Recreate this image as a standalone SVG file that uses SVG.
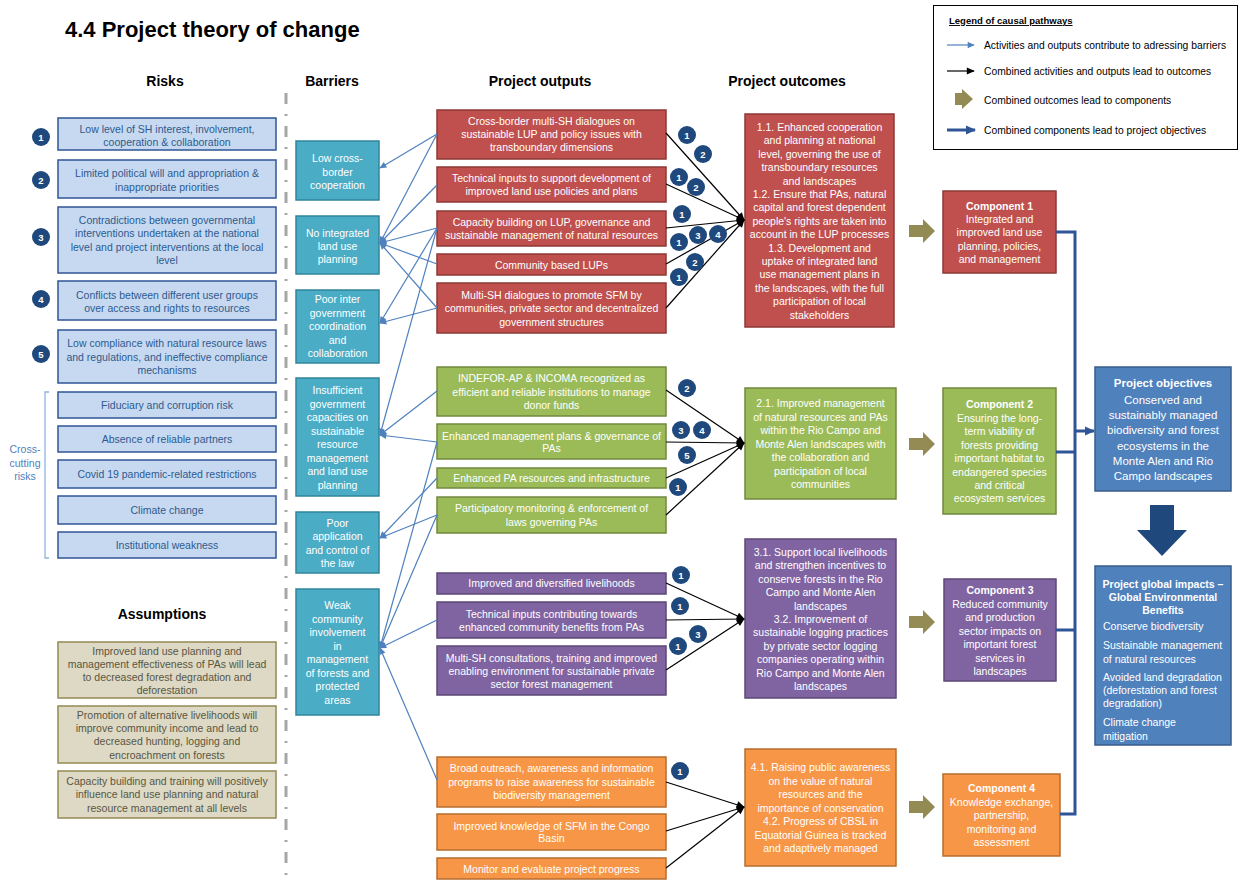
<svg xmlns="http://www.w3.org/2000/svg" width="1244" height="880" viewBox="0 0 1244 880">
<defs>
<style>
text{font-family:"Liberation Sans",Arial,sans-serif;}
.h{font-size:14px;font-weight:bold;fill:#000;text-anchor:middle}
.t{font-size:10.5px;text-anchor:middle}
.w{fill:#fff}
.rk rect{fill:#C6D9F1;stroke:#2F5597;stroke-width:1.5}
.rk text{fill:#2E5A8E}
.as rect{fill:#DDD9C4;stroke:#948A54;stroke-width:1.5}
.as text{fill:#595643}
.br rect{fill:#4BACC6;stroke:#31859C;stroke-width:1.5}
.red rect{fill:#C0504D;stroke:#8C3836;stroke-width:1.5}
.grn rect{fill:#9BBB59;stroke:#71893F;stroke-width:1.5}
.pur rect{fill:#8064A2;stroke:#5C4776;stroke-width:1.5}
.org rect{fill:#F79646;stroke:#B66D31;stroke-width:1.5}
.obj rect{fill:#4F81BD;stroke:#385D8A;stroke-width:1.5}
.num circle{fill:#1F497D}
.num text{fill:#fff;font-size:9.5px;font-weight:bold;text-anchor:middle}
.bl{stroke:#4F81BD;stroke-width:1.2;fill:none;marker-end:url(#ab)}
.bk{stroke:#000;stroke-width:1.2;fill:none;marker-end:url(#ak)}
.ol{fill:#948A54}
.b{font-weight:bold}
</style>
<marker id="ab" viewBox="0 0 10 10" refX="9" refY="5" markerWidth="8" markerHeight="7" orient="auto" markerUnits="userSpaceOnUse"><path d="M0,0.5 L10,5 L0,9.5z" fill="#4F81BD"/></marker>
<marker id="ak" viewBox="0 0 10 10" refX="9" refY="5" markerWidth="9" markerHeight="8" orient="auto" markerUnits="userSpaceOnUse"><path d="M0,0.5 L10,5 L0,9.5z" fill="#000"/></marker>
<marker id="ad" viewBox="0 0 10 10" refX="9" refY="5" markerWidth="10" markerHeight="10" orient="auto" markerUnits="userSpaceOnUse"><path d="M0,0.5 L10,5 L0,9.5z" fill="#2F5597"/></marker>
</defs>
<rect width="1244" height="880" fill="#fff"/>

<text x="65" y="37" style="font-size:22px;font-weight:bold">4.4 Project theory of change</text>
<text class="h" x="165" y="86">Risks</text>
<text class="h" x="332" y="86">Barriers</text>
<text class="h" x="540" y="86">Project outputs</text>
<text class="h" x="787" y="86">Project outcomes</text>
<text class="h" x="162" y="619">Assumptions</text>

<line x1="286" y1="93" x2="286" y2="880" stroke="#A6A6A6" stroke-width="3" stroke-dasharray="11 10 2 10"/>

<!-- Legend -->
<g id="legend">
<rect x="933.5" y="5.5" width="304" height="144" fill="#fff" stroke="#000" stroke-width="1"/>
<text x="949" y="24" style="font-size:9.5px;font-weight:bold;text-decoration:underline">Legend of causal pathways</text>
<line x1="947" y1="45" x2="974" y2="45" class="bl"/>
<text x="984" y="49" style="font-size:10.3px">Activities and outputs contribute to adressing barriers</text>
<line x1="947" y1="71" x2="974" y2="71" class="bk"/>
<text x="984" y="75" style="font-size:10.3px">Combined activities and outputs lead to outcomes</text>
<path class="ol" d="M955,93 H962 V89 L973,99 L962,109 V105 H955 Z"/>
<text x="984" y="104" style="font-size:10.3px">Combined outcomes lead to components</text>
<line x1="947" y1="130" x2="975" y2="130" stroke="#2F5597" stroke-width="3" marker-end="url(#ad)"/>
<text x="984" y="134" style="font-size:10.3px">Combined components lead to project objectives</text>
</g>

<!-- Risks -->
<g id="risk1" class="rk"><rect x="58" y="118" width="218" height="32"/><text class="t" x="167"><tspan x="167" y="133">Low level of SH interest, involvement,</tspan><tspan x="167" y="146">cooperation &amp; collaboration</tspan></text></g>
<g id="risk2" class="rk"><rect x="58" y="160" width="218" height="38"/><text class="t"><tspan x="167" y="177">Limited political will and appropriation &amp;</tspan><tspan x="167" y="191">inappropriate priorities</tspan></text></g>
<g id="risk3" class="rk"><rect x="58" y="207" width="218" height="66"/><text class="t"><tspan x="167" y="224">Contradictions between governmental</tspan><tspan x="167" y="237">interventions undertaken at the national</tspan><tspan x="167" y="251">level and project interventions at the local</tspan><tspan x="167" y="264">level</tspan></text></g>
<g id="risk4" class="rk"><rect x="58" y="281" width="218" height="39"/><text class="t"><tspan x="167" y="299">Conflicts between different user groups</tspan><tspan x="167" y="312">over access and rights to resources</tspan></text></g>
<g id="risk5" class="rk"><rect x="58" y="330" width="218" height="53"/><text class="t"><tspan x="167" y="347">Low compliance with natural resource laws</tspan><tspan x="167" y="361">and regulations, and ineffective compliance</tspan><tspan x="167" y="374">mechanisms</tspan></text></g>
<g id="risknums" class="num">
<circle cx="41" cy="137" r="9"/><text x="41" y="140.5">1</text>
<circle cx="41" cy="180" r="9"/><text x="41" y="183.5">2</text>
<circle cx="41" cy="237" r="9"/><text x="41" y="240.5">3</text>
<circle cx="41" cy="299" r="9"/><text x="41" y="302.5">4</text>
<circle cx="41" cy="354" r="9"/><text x="41" y="357.5">5</text>
</g>
<g id="cc1" class="rk"><rect x="58" y="392" width="218" height="26"/><text class="t" x="167" y="409">Fiduciary and corruption risk</text></g>
<g id="cc2" class="rk"><rect x="58" y="426" width="218" height="26"/><text class="t" x="167" y="443">Absence of reliable partners</text></g>
<g id="cc3" class="rk"><rect x="58" y="460" width="218" height="28"/><text class="t" x="167" y="478">Covid 19 pandemic-related restrictions</text></g>
<g id="cc4" class="rk"><rect x="58" y="496" width="218" height="28"/><text class="t" x="167" y="514">Climate change</text></g>
<g id="cc5" class="rk"><rect x="58" y="532" width="218" height="26"/><text class="t" x="167" y="549">Institutional weakness</text></g>
<g id="crosscut">
<path d="M49,392 H45 V558 H49" fill="none" stroke="#8DB4E2" stroke-width="1.3"/>
<text class="t" style="fill:#4F81BD"><tspan x="25" y="453">Cross-</tspan><tspan x="25" y="467">cutting</tspan><tspan x="25" y="480">risks</tspan></text>
</g>

<!-- Assumptions -->
<g id="as1" class="as"><rect x="58" y="642" width="218" height="56"/><text class="t"><tspan x="167" y="655">Improved land use planning and</tspan><tspan x="167" y="668">management effectiveness of PAs will lead</tspan><tspan x="167" y="681">to decreased forest degradation and</tspan><tspan x="167" y="694">deforestation</tspan></text></g>
<g id="as2" class="as"><rect x="58" y="706" width="218" height="57"/><text class="t"><tspan x="167" y="719">Promotion of alternative livelihoods will</tspan><tspan x="167" y="732">improve community income and lead to</tspan><tspan x="167" y="745">decreased hunting, logging and</tspan><tspan x="167" y="759">encroachment on forests</tspan></text></g>
<g id="as3" class="as"><rect x="58" y="771" width="218" height="47"/><text class="t"><tspan x="167" y="785">Capacity building and training will positively</tspan><tspan x="167" y="798">influence land use planning and natural</tspan><tspan x="167" y="812">resource management at all levels</tspan></text></g>

<!-- Barriers -->
<g id="bar1" class="br"><rect x="296" y="141" width="83" height="59"/><text class="t w"><tspan x="337.5" y="162">Low cross-</tspan><tspan x="337.5" y="176">border</tspan><tspan x="337.5" y="189">cooperation</tspan></text></g>
<g id="bar2" class="br"><rect x="296" y="216" width="83" height="58"/><text class="t w"><tspan x="337.5" y="237">No integrated</tspan><tspan x="337.5" y="250">land use</tspan><tspan x="337.5" y="263">planning</tspan></text></g>
<g id="bar3" class="br"><rect x="296" y="290" width="83" height="73"/><text class="t w"><tspan x="337.5" y="303">Poor inter</tspan><tspan x="337.5" y="317">government</tspan><tspan x="337.5" y="330">coordination</tspan><tspan x="337.5" y="344">and</tspan><tspan x="337.5" y="357">collaboration</tspan></text></g>
<g id="bar4" class="br"><rect x="296" y="378" width="83" height="118"/><text class="t w"><tspan x="337.5" y="394">Insufficient</tspan><tspan x="337.5" y="407.5">government</tspan><tspan x="337.5" y="421">capacities on</tspan><tspan x="337.5" y="434.5">sustainable</tspan><tspan x="337.5" y="448">resource</tspan><tspan x="337.5" y="461.5">management</tspan><tspan x="337.5" y="475">and land use</tspan><tspan x="337.5" y="488.5">planning</tspan></text></g>
<g id="bar5" class="br"><rect x="296" y="512" width="83" height="61"/><text class="t w"><tspan x="337.5" y="527">Poor</tspan><tspan x="337.5" y="540">application</tspan><tspan x="337.5" y="554">and control of</tspan><tspan x="337.5" y="567">the law</tspan></text></g>
<g id="bar6" class="br"><rect x="296" y="589" width="83" height="126"/><text class="t w"><tspan x="337.5" y="609">Weak</tspan><tspan x="337.5" y="622.5">community</tspan><tspan x="337.5" y="636">involvement</tspan><tspan x="337.5" y="649.5">in</tspan><tspan x="337.5" y="663">management</tspan><tspan x="337.5" y="676.5">of forests and</tspan><tspan x="337.5" y="690">protected</tspan><tspan x="337.5" y="703.5">areas</tspan></text></g>

<!-- Outputs -->
<g id="out_r1" class="red"><rect x="437" y="110" width="229" height="49"/><text class="t w"><tspan x="551.5" y="125">Cross-border multi-SH dialogues on</tspan><tspan x="551.5" y="138">sustainable LUP and policy issues with</tspan><tspan x="551.5" y="151">transboundary dimensions</tspan></text></g>
<g id="out_r2" class="red"><rect x="437" y="167" width="229" height="35"/><text class="t w"><tspan x="551.5" y="182">Technical inputs to support development of</tspan><tspan x="551.5" y="195">improved land use policies and plans</tspan></text></g>
<g id="out_r3" class="red"><rect x="437" y="211" width="229" height="35"/><text class="t w"><tspan x="551.5" y="226">Capacity building on LUP, governance and</tspan><tspan x="551.5" y="238.5">sustainable management of natural resources</tspan></text></g>
<g id="out_r4" class="red"><rect x="437" y="254" width="229" height="21"/><text class="t w" x="551.5" y="268.5">Community based LUPs</text></g>
<g id="out_r5" class="red"><rect x="437" y="283" width="229" height="50"/><text class="t w"><tspan x="551.5" y="299">Multi-SH dialogues to promote SFM by</tspan><tspan x="551.5" y="312">communities, private sector and decentralized</tspan><tspan x="551.5" y="326">government structures</tspan></text></g>

<g id="out_g1" class="grn"><rect x="437" y="367" width="229" height="49"/><text class="t w"><tspan x="551.5" y="382">INDEFOR-AP &amp; INCOMA recognized as</tspan><tspan x="551.5" y="396">efficient and reliable institutions to manage</tspan><tspan x="551.5" y="409">donor funds</tspan></text></g>
<g id="out_g2" class="grn"><rect x="437" y="424" width="229" height="35"/><text class="t w"><tspan x="551.5" y="440">Enhanced management plans &amp; governance of</tspan><tspan x="551.5" y="452">PAs</tspan></text></g>
<g id="out_g3" class="grn"><rect x="437" y="468" width="229" height="20"/><text class="t w" x="551.5" y="482">Enhanced PA resources and infrastructure</text></g>
<g id="out_g4" class="grn"><rect x="437" y="497" width="229" height="36"/><text class="t w"><tspan x="551.5" y="512">Participatory monitoring &amp; enforcement of</tspan><tspan x="551.5" y="526">laws governing PAs</tspan></text></g>

<g id="out_p1" class="pur"><rect x="437" y="573" width="229" height="21"/><text class="t w" x="551.5" y="587">Improved and diversified livelihoods</text></g>
<g id="out_p2" class="pur"><rect x="437" y="602" width="229" height="36"/><text class="t w"><tspan x="551.5" y="618">Technical inputs contributing towards</tspan><tspan x="551.5" y="631">enhanced community benefits from PAs</tspan></text></g>
<g id="out_p3" class="pur"><rect x="437" y="646" width="229" height="49"/><text class="t w"><tspan x="551.5" y="662">Multi-SH consultations, training and improved</tspan><tspan x="551.5" y="675">enabling environment for sustainable private</tspan><tspan x="551.5" y="688">sector forest management</tspan></text></g>

<g id="out_o1" class="org"><rect x="437" y="757" width="229" height="50"/><text class="t w"><tspan x="551.5" y="772">Broad outreach, awareness and information</tspan><tspan x="551.5" y="786">programs to raise awareness for sustainable</tspan><tspan x="551.5" y="799">biodiversity management</tspan></text></g>
<g id="out_o2" class="org"><rect x="437" y="814" width="229" height="36"/><text class="t w"><tspan x="551.5" y="830">Improved knowledge of SFM in the Congo</tspan><tspan x="551.5" y="842">Basin</tspan></text></g>
<g id="out_o3" class="org"><rect x="437" y="858" width="229" height="21"/><text class="t w" x="551.5" y="873">Monitor and evaluate project progress</text></g>

<!-- Outcomes -->
<g id="oc1" class="red"><rect x="745" y="114" width="149" height="213"/><text class="t w"><tspan x="819.5" y="131">1.1.  Enhanced cooperation</tspan><tspan x="819.5" y="144.4">and planning at national</tspan><tspan x="819.5" y="157.8">level, governing the use of</tspan><tspan x="819.5" y="171.2">transboundary resources</tspan><tspan x="819.5" y="184.6">and landscapes</tspan><tspan x="819.5" y="198">1.2. Ensure that PAs, natural</tspan><tspan x="819.5" y="211.4">capital and forest dependent</tspan><tspan x="819.5" y="224.8">people's rights are taken into</tspan><tspan x="819.5" y="238.2">account in the LUP processes</tspan><tspan x="819.5" y="251.6">1.3.  Development and</tspan><tspan x="819.5" y="265">uptake of integrated land</tspan><tspan x="819.5" y="278.4">use management plans in</tspan><tspan x="819.5" y="291.8">the landscapes, with the full</tspan><tspan x="819.5" y="305.2">participation of local</tspan><tspan x="819.5" y="318.6">stakeholders</tspan></text></g>
<g id="oc2" class="grn"><rect x="745" y="388" width="151" height="111"/><text class="t w"><tspan x="820.5" y="407">2.1. Improved management</tspan><tspan x="820.5" y="420.5">of natural resources and PAs</tspan><tspan x="820.5" y="434">within the Rio Campo and</tspan><tspan x="820.5" y="447.5">Monte Alen landscapes with</tspan><tspan x="820.5" y="461">the collaboration and</tspan><tspan x="820.5" y="474.5">participation of local</tspan><tspan x="820.5" y="488">communities</tspan></text></g>
<g id="oc3" class="pur"><rect x="745" y="539" width="151" height="159"/><text class="t w"><tspan x="820.5" y="556">3.1. Support local livelihoods</tspan><tspan x="820.5" y="569.4">and strengthen incentives to</tspan><tspan x="820.5" y="582.8">conserve forests in the Rio</tspan><tspan x="820.5" y="596.2">Campo and Monte Alen</tspan><tspan x="820.5" y="609.6">landscapes</tspan><tspan x="820.5" y="623">3.2. Improvement of</tspan><tspan x="820.5" y="636.4">sustainable logging practices</tspan><tspan x="820.5" y="649.8">by private sector logging</tspan><tspan x="820.5" y="663.2">companies operating within</tspan><tspan x="820.5" y="676.6">Rio Campo and Monte Alen</tspan><tspan x="820.5" y="690">landscapes</tspan></text></g>
<g id="oc4" class="org"><rect x="745" y="749" width="151" height="117"/><text class="t w"><tspan x="820.5" y="771">4.1. Raising public awareness</tspan><tspan x="820.5" y="784.5">on the value of natural</tspan><tspan x="820.5" y="798">resources and the</tspan><tspan x="820.5" y="811.5">importance of conservation</tspan><tspan x="820.5" y="825">4.2. Progress of CBSL in</tspan><tspan x="820.5" y="838.5">Equatorial Guinea is tracked</tspan><tspan x="820.5" y="852">and adaptively managed</tspan></text></g>

<!-- Olive arrows -->
<g id="olive_arrows">
<path class="ol" d="M909,225 H923 V219 L935,231 L923,243 V237 H909 Z"/>
<path class="ol" d="M909,438 H923 V432 L935,444 L923,456 V450 H909 Z"/>
<path class="ol" d="M909,616 H923 V610 L935,622 L923,634 V628 H909 Z"/>
<path class="ol" d="M909,801 H923 V795 L935,807 L923,819 V813 H909 Z"/>
</g>

<!-- Components -->
<g id="comp1" class="red"><rect x="943" y="191" width="113" height="82"/><text class="t w"><tspan x="999.5" y="210" class="b">Component 1</tspan><tspan x="999.5" y="223">Integrated and</tspan><tspan x="999.5" y="236">improved land use</tspan><tspan x="999.5" y="249.5">planning, policies,</tspan><tspan x="999.5" y="263">and management</tspan></text></g>
<g id="comp2" class="grn"><rect x="943" y="388" width="113" height="126"/><text class="t w"><tspan x="999.5" y="408" class="b">Component 2</tspan><tspan x="999.5" y="421.5">Ensuring the long-</tspan><tspan x="999.5" y="435">term viability of</tspan><tspan x="999.5" y="448.5">forests providing</tspan><tspan x="999.5" y="462">important habitat to</tspan><tspan x="999.5" y="475.5">endangered species</tspan><tspan x="999.5" y="489">and critical</tspan><tspan x="999.5" y="502">ecosystem services</tspan></text></g>
<g id="comp3" class="pur"><rect x="944" y="579" width="112" height="102"/><text class="t w"><tspan x="1000" y="594" class="b">Component 3</tspan><tspan x="1000" y="607.5">Reduced community</tspan><tspan x="1000" y="621">and production</tspan><tspan x="1000" y="634.5">sector impacts on</tspan><tspan x="1000" y="648">important forest</tspan><tspan x="1000" y="661.5">services in</tspan><tspan x="1000" y="675">landscapes</tspan></text></g>
<g id="comp4" class="org"><rect x="943" y="774" width="117" height="82"/><text class="t w"><tspan x="1001.5" y="792" class="b">Component 4</tspan><tspan x="1001.5" y="805.5">Knowledge exchange,</tspan><tspan x="1001.5" y="819">partnership,</tspan><tspan x="1001.5" y="832.5">monitoring and</tspan><tspan x="1001.5" y="846">assessment</tspan></text></g>

<!-- Objectives -->
<g id="objectives" class="obj"><rect x="1095" y="367" width="136" height="124"/><text class="w" style="font-size:11.5px;text-anchor:middle"><tspan x="1163" y="387" class="b">Project objectives</tspan><tspan x="1163" y="404">Conserved and</tspan><tspan x="1163" y="419">sustainably managed</tspan><tspan x="1163" y="434">biodiversity and forest</tspan><tspan x="1163" y="450">ecosystems in the</tspan><tspan x="1163" y="465">Monte Alen and Rio</tspan><tspan x="1163" y="480">Campo landscapes</tspan></text></g>
<path id="down_arrow" d="M1150,505 H1174 V530 H1187 L1162,556 L1137,530 H1150 Z" fill="#1F497D"/>
<g id="impacts" class="obj"><rect x="1095" y="566" width="136" height="179"/><text class="w b" style="font-size:10.5px;text-anchor:middle"><tspan x="1163" y="588">Project global impacts –</tspan><tspan x="1163" y="601">Global Environmental</tspan><tspan x="1163" y="614">Benefits</tspan></text><text class="w" style="font-size:10.5px"><tspan x="1103" y="630">Conserve biodiversity</tspan><tspan x="1103" y="649">Sustainable management</tspan><tspan x="1103" y="663">of natural resources</tspan><tspan x="1103" y="681">Avoided land degradation</tspan><tspan x="1103" y="694">(deforestation and forest</tspan><tspan x="1103" y="707">degradation)</tspan><tspan x="1103" y="726">Climate change</tspan><tspan x="1103" y="740">mitigation</tspan></text></g>

<!-- Connectors -->
<g id="connectors">
<g id="blue_links">
<line class="bl" x1="437" y1="134" x2="380" y2="168"/>
<line class="bl" x1="437" y1="134" x2="380" y2="243"/>
<line class="bl" x1="437" y1="185" x2="380" y2="243"/>
<line class="bl" x1="437" y1="228" x2="380" y2="243"/>
<line class="bl" x1="437" y1="264" x2="380" y2="243"/>
<line class="bl" x1="437" y1="308" x2="380" y2="243"/>
<line class="bl" x1="437" y1="228" x2="380" y2="323"/>
<line class="bl" x1="437" y1="308" x2="380" y2="323"/>
<line class="bl" x1="437" y1="228" x2="380" y2="435"/>
<line class="bl" x1="437" y1="391" x2="380" y2="435"/>
<line class="bl" x1="437" y1="442" x2="380" y2="435"/>
<line class="bl" x1="437" y1="478" x2="380" y2="538"/>
<line class="bl" x1="437" y1="515" x2="380" y2="538"/>
<line class="bl" x1="437" y1="442" x2="380" y2="648"/>
<line class="bl" x1="437" y1="515" x2="380" y2="648"/>
<line class="bl" x1="437" y1="620" x2="380" y2="648"/>
<line class="bl" x1="437" y1="780" x2="380" y2="648"/>
</g>
<g id="black_links">
<line class="bk" x1="666" y1="133" x2="744" y2="220"/>
<line class="bk" x1="666" y1="184" x2="744" y2="220"/>
<line class="bk" x1="666" y1="228" x2="744" y2="220"/>
<line class="bk" x1="666" y1="264" x2="744" y2="220"/>
<line class="bk" x1="666" y1="308" x2="744" y2="220"/>
<line class="bk" x1="666" y1="390" x2="744" y2="443"/>
<line class="bk" x1="666" y1="442" x2="744" y2="443"/>
<line class="bk" x1="666" y1="478" x2="744" y2="443"/>
<line class="bk" x1="666" y1="515" x2="744" y2="443"/>
<line class="bk" x1="666" y1="583" x2="744" y2="619"/>
<line class="bk" x1="666" y1="620" x2="744" y2="619"/>
<line class="bk" x1="666" y1="670" x2="744" y2="619"/>
<line class="bk" x1="666" y1="782" x2="744" y2="807"/>
<line class="bk" x1="666" y1="831" x2="744" y2="807"/>
<line class="bk" x1="666" y1="868" x2="744" y2="807"/>
</g>
<g id="component_links" fill="none" stroke="#2F5597" stroke-width="3">
<path d="M1056,232 H1075 V814 H1060"/>
<path d="M1056,452 H1075"/>
<path d="M1056,630 H1075"/>
<path d="M1075,431 H1094" marker-end="url(#ad)"/>
</g>
<g id="link_numbers" class="num">
<circle cx="687" cy="135" r="9"/><text x="687" y="138.5">1</text>
<circle cx="703" cy="154" r="9"/><text x="703" y="157.5">2</text>
<circle cx="679" cy="177" r="9"/><text x="679" y="180.5">1</text>
<circle cx="696" cy="187" r="9"/><text x="696" y="190.5">2</text>
<circle cx="682" cy="214" r="9"/><text x="682" y="217.5">1</text>
<circle cx="679" cy="242" r="9"/><text x="679" y="245.5">1</text>
<circle cx="698" cy="235" r="9"/><text x="698" y="238.5">3</text>
<circle cx="718" cy="234" r="9"/><text x="718" y="237.5">4</text>
<circle cx="695" cy="262" r="9"/><text x="695" y="265.5">2</text>
<circle cx="679" cy="277" r="9"/><text x="679" y="280.5">1</text>
<circle cx="687" cy="388" r="9"/><text x="687" y="391.5">2</text>
<circle cx="681" cy="430" r="9"/><text x="681" y="433.5">3</text>
<circle cx="702" cy="430" r="9"/><text x="702" y="433.5">4</text>
<circle cx="687" cy="455" r="9"/><text x="687" y="458.5">5</text>
<circle cx="678" cy="487" r="9"/><text x="678" y="490.5">1</text>
<circle cx="681" cy="575" r="9"/><text x="681" y="578.5">1</text>
<circle cx="680" cy="606" r="9"/><text x="680" y="609.5">1</text>
<circle cx="698" cy="634" r="9"/><text x="698" y="637.5">3</text>
<circle cx="678" cy="646" r="9"/><text x="678" y="649.5">1</text>
<circle cx="680" cy="771" r="9"/><text x="680" y="774.5">1</text>
</g>
</g>
</svg>
